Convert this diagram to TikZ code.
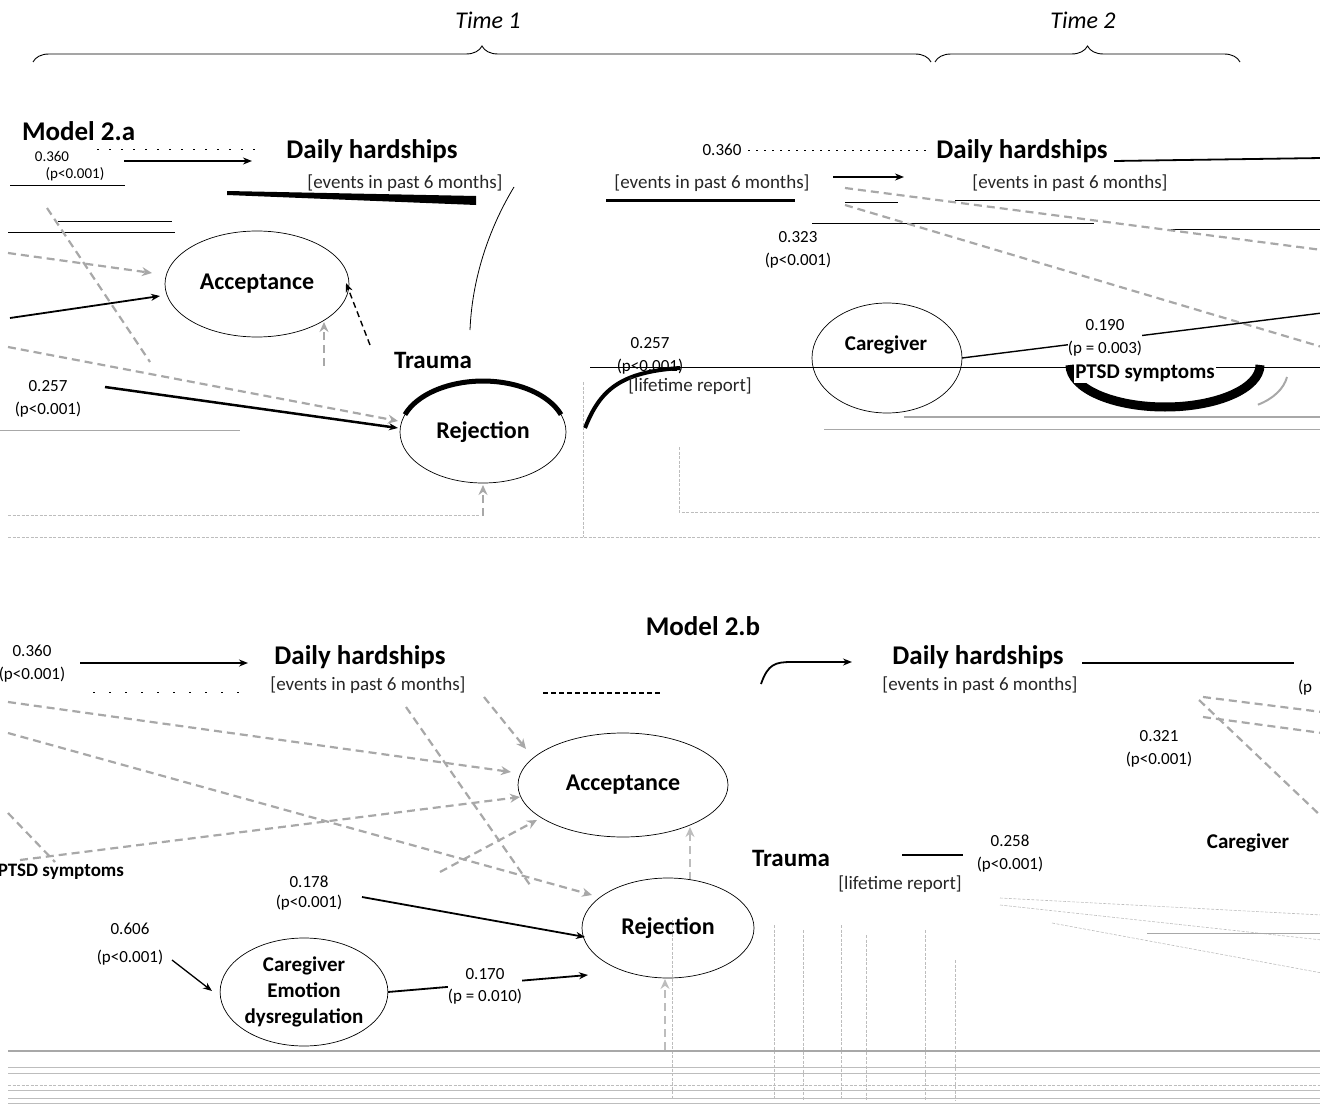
\documentclass[tikz,border=0pt]{standalone}
\usepackage{fontspec}
\setmainfont{Carlito}
\usetikzlibrary{arrows.meta,shapes.geometric,decorations.pathreplacing}
\definecolor{dg}{gray}{0.66}
\definecolor{lg}{gray}{0.74}
\begin{document}
\begin{tikzpicture}[x=1pt,y=-1pt,
  every node/.style={inner sep=0pt, outer sep=0pt},
  tm/.style={font=\fontsize{24}{26}\selectfont\itshape},
  hd/.style={font=\fontsize{27}{29}\selectfont\bfseries},
  nd/.style={font=\fontsize{24}{26}\selectfont\bfseries},
  trm/.style={font=\fontsize{25}{27}\selectfont\bfseries},
  nds/.style={font=\fontsize{21}{26}\selectfont\bfseries, align=center},
  sub/.style={font=\fontsize{19}{21}\selectfont, text=black!85},
  coef/.style={font=\fontsize{17}{23}\selectfont, align=center},
  ell/.style={draw, ellipse, line width=0.7pt},
  sarr/.style={line width=1.8pt, -{Stealth[length=9pt,width=7pt]}},
  sline/.style={line width=1.8pt},
  garr/.style={draw=dg, line width=2.2pt, dash pattern=on 8pt off 5pt, -{Stealth[length=10pt,width=9pt]}},
  gline/.style={draw=dg, line width=2.2pt, dash pattern=on 8pt off 5pt},
  fine/.style={draw=lg, line width=0.6pt, dash pattern=on 3pt off 1.5pt},
  thin/.style={draw=dg, line width=0.8pt}]

\path[use as bounding box] (0,0) rectangle (1320,1105);

% ---------- header ----------
\node[tm] (t1) at (488,20) {Time 1};
\node[tm] (t2) at (1083,20) {Time 2};
\coordinate (b1l) at (33,62); \coordinate (b1r) at (931,62);
\coordinate (b2l) at (935,62); \coordinate (b2r) at (1240,62);
\draw[line width=0.9pt, decorate, decoration={brace, amplitude=16pt}] (b1l) -- (b1r);
\draw[line width=0.9pt, decorate, decoration={brace, amplitude=16pt}] (b2l) -- (b2r);

% ---------- Model 2.a ----------
\node[hd, anchor=west] (m2a) at (22,131) {Model 2.a};
\node[coef, font=\fontsize{15}{17}\selectfont] (c1a) at (52,156) {0.360};
\node[coef, font=\fontsize{15}{17}\selectfont] (c1b) at (75,174) {(p<0.001)};
\draw[dash pattern=on 2pt off 10pt, line width=1pt] (97,150) -- (260,150);
\draw[line width=1pt] (10,185) -- (125,185);
\coordinate (a1s) at (124,161); \coordinate (a1e) at (252,161);
\draw[sarr] (a1s) -- (a1e);
\node[hd] (dha) at (372,151) {Daily hardships};
\node[sub] (dhas) at (405,183) {[events in past 6 months]};
\fill (227,191) -- (476,196) -- (476,205) -- (227,195) -- cycle;
\draw[line width=3pt] (606,200) -- (795,200);
\draw[line width=0.8pt] (514,187) .. controls (488,230) and (472,280) .. (470,330);

\node[coef] (c2a) at (722,150) {0.360};
\draw[dash pattern=on 2pt off 6pt, line width=0.8pt] (748,150) -- (930,150);
\node[sub] (dhas2) at (712,183) {[events in past 6 months]};
\coordinate (a2s) at (833,177); \coordinate (a2e) at (904,177);
\draw[sarr] (a2s) -- (a2e);
\node[hd] (dhb) at (1022,151) {Daily hardships};
\node[sub] (dhbs) at (1070,183) {[events in past 6 months]};
\coordinate (r1) at (1322,158);
\draw[sline] (1114,161) -- (r1);
\draw[line width=0.8pt] (845,202) -- (898,202);
\draw[line width=0.8pt] (955,200) -- (1320,200);
\draw[line width=0.8pt] (812,223) -- (1094,223);
\draw[line width=0.8pt] (1170,229) -- (1320,229);
\coordinate (g1s) at (845,188); \coordinate (g1e) at (1322,250);
\coordinate (g2s) at (845,205); \coordinate (g2e) at (1322,347);
\draw[gline] (g1s) -- (g1e);
\draw[gline] (g2s) -- (g2e);
\node[coef] (c3) at (798,250) {0.323\\(p<0.001)};

% Acceptance (2.a)
\node[ell, nd, minimum width=184, minimum height=106] (acca) at (257,284) {Acceptance};
\draw[line width=1pt] (58,221) -- (172,221);
\draw[line width=1pt] (8,232) -- (175,232);
\coordinate (g3s) at (8,253); \coordinate (g3e) at (152,273);
\draw[garr] (g3s) -- (g3e);
\draw[gline] (47,208) -- (150,362);
\coordinate (k1s) at (10,318); \coordinate (k1e) at (160,296);
\draw[sarr] (k1s) -- (k1e);
\coordinate (g4s) at (324,366); \coordinate (g4e) at (324,322);
\draw[garr] (g4s) -- (g4e);
\coordinate (k2s) at (370,345); \coordinate (k2e) at (346,283);
\draw[line width=1.4pt, dash pattern=on 6pt off 4pt, -{Stealth[length=9pt,width=7pt]}] (k2s) -- (k2e);

% Trauma / Rejection (2.a)
\node[trm] (tra) at (433,360) {Trauma};
\node[ell, nd, minimum width=166, minimum height=102] (reja) at (483,432) {Rejection};
\draw[line width=5pt] (405,414.6) arc[start angle=200, end angle=340, x radius=83, y radius=51];
\coordinate (k3s) at (105,387); \coordinate (k3e) at (398,428);
\draw[sarr, line width=2.5pt] (k3s) -- (k3e);
\coordinate (g5s) at (8,347); \coordinate (g5e) at (398,421);
\draw[garr] (g5s) -- (g5e);
\node[coef] (c5) at (48,399) {0.257\\(p<0.001)};
\draw[thin] (0,430) -- (240,430);
\draw[line width=4pt] (585,428) .. controls (600,390) and (620,372) .. (680,368);
\node[coef] (c6) at (650,356) {0.257\\(p<0.001)};
\node[sub] (lra) at (690,386) {[lifetime report]};

% Caregiver (2.a)
\node[ell, minimum width=150, minimum height=110] (cga) at (887,358) {};
\node[nds] (cgat) at (886,345) {Caregiver};
\coordinate (k4e) at (1322,313);
\draw[line width=1.4pt] (cga.east) -- (k4e);
\node[coef, fill=white] (c7) at (1105,338) {0.190\\(p = 0.003)};
\draw[line width=1pt] (590,367) -- (1320,367);
\draw[line width=9pt] (1260,365) arc[start angle=0, end angle=180, x radius=95, y radius=42];
\draw[dg, line width=2pt] (1287,377) arc[start angle=10, end angle=60, x radius=60, y radius=40];
\node[nds, fill=white, inner sep=1pt] (ptsa) at (1145,373) {PTSD symptoms};
\draw[dg, line width=2pt] (904,417) -- (1320,417);
\draw[thin] (824,429) -- (1320,429);

% dashed frame lines (2.a)
\draw[fine] (8,515) -- (480,515);
\coordinate (g6s) at (483,516); \coordinate (g6e) at (483,485);
\draw[garr, line width=1.5pt] (g6s) -- (g6e);
\draw[fine] (8,537) -- (1320,537);
\draw[fine] (583,382) -- (583,537);
\draw[fine] (679,447) -- (679,512) -- (1320,512);

% ---------- Model 2.b ----------
\node[hd] (m2b) at (703,626) {Model 2.b};
\node[coef] (c8) at (32,664) {0.360\\(p<0.001)};
\coordinate (a3s) at (80,663); \coordinate (a3e) at (248,663);
\draw[sarr] (a3s) -- (a3e);
\node[hd] (dhc) at (360,657) {Daily hardships};
\node[sub] (dhcs) at (368,685) {[events in past 6 months]};
\draw[dash pattern=on 2pt off 14pt, line width=1pt] (93,692) -- (253,692);
\draw[dash pattern=on 5pt off 3pt, line width=1.6pt] (543,693) -- (660,693);
\coordinate (a4s) at (761,684); \coordinate (a4e) at (852,662);
\draw[sarr] (a4s) .. controls (768,664) and (775,662) .. (792,662) -- (a4e);
\node[hd] (dhd) at (978,657) {Daily hardships};
\node[sub] (dhds) at (980,685) {[events in past 6 months]};
\coordinate (a5e) at (1294,663);
\draw[sline] (1082,663) -- (a5e);
\node[coef, anchor=west] (c9) at (1298,688) {(p};
\draw[gline] (1203,697) -- (1322,712);
\draw[gline] (1203,717) -- (1322,733);
\draw[gline] (1199,700) -- (1322,817);
\node[coef] (c10) at (1159,749) {0.321\\(p<0.001)};

% Acceptance (2.b)
\node[ell, nd, minimum width=210, minimum height=104] (accb) at (623,785) {Acceptance};
\coordinate (h1s) at (8,702);   \coordinate (h1e) at (511,772);
\coordinate (h2s) at (8,733);   \coordinate (h2e) at (592,895);
\coordinate (h3s) at (20,860);  \coordinate (h3e) at (520,797);
\coordinate (h5s) at (484,697); \coordinate (h5e) at (526,749);
\coordinate (h6s) at (440,872); \coordinate (h6e) at (537,820);
\coordinate (h8s) at (690,880); \coordinate (h8e) at (690,827);
\draw[garr] (h1s) -- (h1e);
\draw[garr] (h2s) -- (h2e);
\draw[garr] (h3s) -- (h3e);
\draw[gline] (406,707) -- (530,885);
\draw[garr] (h5s) -- (h5e);
\draw[garr] (h6s) -- (h6e);
\draw[gline] (8,813) -- (55,862);
\draw[garr, draw=lg] (h8s) -- (h8e);

% Trauma / Caregiver (2.b)
\node[trm] (trb) at (791,858) {Trauma};
\node[sub] (lrb) at (900,884) {[lifetime report]};
\coordinate (k5s) at (902,855); \coordinate (k5e) at (963,855);
\draw[sline] (k5s) -- (k5e);
\node[coef] (c11) at (1010,854) {0.258\\(p<0.001)};
\node[nds] (cgb) at (1248,843) {Caregiver};
\draw[fine] (1000,898) -- (1322,915);
\draw[fine] (1000,905) -- (1322,940);
\draw[fine] (1052,923) -- (1322,973);
\draw[thin] (1147,933) -- (1322,933);

% Rejection (2.b)
\node[ell, nd, minimum width=172, minimum height=100] (rejb) at (668,928) {Rejection};

% Caregiver emotion dysregulation
\node[ell, nds, minimum width=164, minimum height=108] (ced) at (304,992) {Caregiver\\Emotion\\dysregulation};
\node[nds, font=\fontsize{19}{21}\selectfont\bfseries, anchor=east] (pts) at (124,872) {PTSD symptoms};
\coordinate (k6s) at (172,960); \coordinate (k6e) at (212,991);
\draw[sarr, line width=1.3pt] (k6s) -- (k6e);
\node[coef, font=\fontsize{17}{28}\selectfont] (c12) at (130,944) {0.606\\(p<0.001)};
\coordinate (k7s) at (362,897); \coordinate (k7e) at (585,937);
\draw[sarr] (k7s) -- (k7e);
\node[coef, font=\fontsize{17}{20}\selectfont] (c13) at (309,893) {0.178\\(p<0.001)};
\coordinate (k8e) at (588,975);
\draw[sarr] (ced.east) -- (k8e);
\node[coef, fill=white, font=\fontsize{17}{22}\selectfont] (c14) at (485,986) {0.170\\(p = 0.010)};

% bottom frame lines
\coordinate (h9s) at (665,1050); \coordinate (h9e) at (665,979);
\draw[garr, draw=lg, line width=1.3pt] (h9s) -- (h9e);
\foreach \xx/\yy in {672/920, 774/925, 803/930, 841/925, 866/935, 925/930, 955/960}
  \draw[fine] (\xx,\yy) -- (\xx,1100);
\draw[dg, line width=2.5pt] (8,1051) -- (1320,1051);
\draw[lg, line width=0.8pt] (8,1067) -- (1320,1067);
\draw[lg, line width=0.8pt] (8,1073) -- (1320,1073);
\draw[fine] (8,1085) -- (1320,1085);
\draw[lg, line width=0.8pt] (8,1090) -- (1320,1090);
\draw[lg, line width=0.8pt] (8,1098) -- (1320,1098);
\draw[lg, line width=0.8pt] (8,1103) -- (1320,1103);
\end{tikzpicture}
\end{document}
